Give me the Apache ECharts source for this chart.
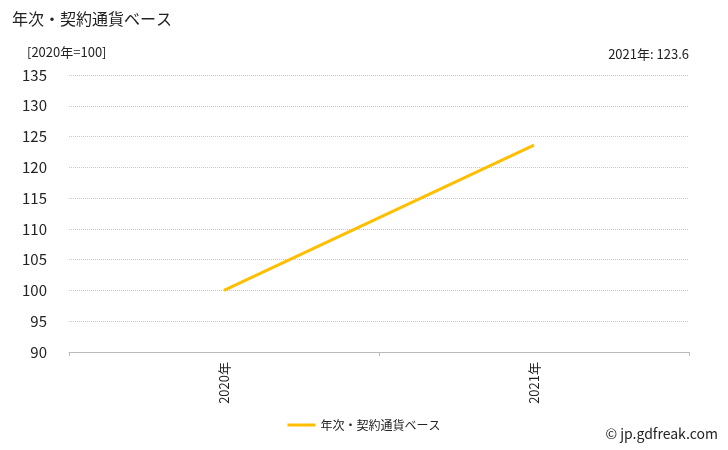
<!DOCTYPE html>
<html><head><meta charset="utf-8">
<script src="https://cdn.jsdelivr.net/npm/echarts@6/dist/echarts.min.js"></script>
<style>html,body{margin:0;padding:0;background:#fff}#c{width:728px;height:450px}</style>
</head><body><div id="c"></div>
<script>
const categories = ['2020年', '2021年'];
const seriesName = '年次・契約通貨ベース';
const values = [100, 123.6];
const yMin = 90, yMax = 135, yStep = 5;
const titleText = '年次・契約通貨ベース';
const unitText = '[2020年=100]';
const latestText = '2021年: 123.6';
const creditText = '© jp.gdfreak.com';

const font = '"Noto Sans CJK JP", sans-serif';
const chart = echarts.init(document.getElementById('c'));
chart.setOption({
  animation: false,
  textStyle: { fontFamily: font },
  graphic: [
    { type: 'text', left: 12, top: 11, style: { text: titleText, font: '16px ' + font, fill: '#222' } },
    { type: 'text', left: 27, top: 46, style: { text: unitText, font: '13px ' + font, fill: '#222' } },
    { type: 'text', right: 39, top: 48, style: { text: latestText, font: '13px ' + font, fill: '#222' } },
    { type: 'text', right: 10, top: 427, style: { text: creditText, font: '14px ' + font, fill: '#222' } }
  ],
  legend: {
    bottom: 14, left: 'center', itemWidth: 28, itemHeight: 3, itemGap: 4,
    icon: 'rect',
    textStyle: { fontSize: 12, color: '#222', fontFamily: font },
    data: [seriesName]
  },
  grid: { left: 69, right: 39, top: 75, bottom: 98, containLabel: false },
  xAxis: {
    type: 'category', data: categories, boundaryGap: true,
    axisLine: { lineStyle: { color: '#bbb' } },
    axisTick: { show: true, length: 4, lineStyle: { color: '#bbb' } },
    axisLabel: { rotate: 90, fontSize: 13, color: '#222', margin: 10, fontFamily: font }
  },
  yAxis: {
    type: 'value', min: yMin, max: yMax, interval: yStep,
    axisLine: { show: false }, axisTick: { show: false },
    axisLabel: { fontSize: 15, color: '#222', margin: 22, fontFamily: font },
    splitLine: { lineStyle: { color: '#c8c8c8', type: [1, 1], width: 1 } }
  },
  series: [{
    name: seriesName, type: 'line', data: values,
    symbol: 'none', lineStyle: { color: '#FFBF00', width: 3 },
    itemStyle: { color: '#FFBF00' }
  }]
});
</script></body></html>
